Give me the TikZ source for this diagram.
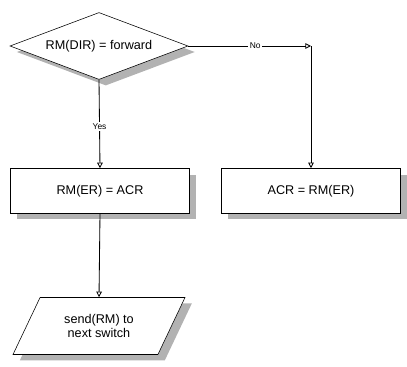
\documentclass[tikz,border=0pt]{standalone}
\usepackage{fontspec}
\setmainfont{Liberation Sans}
\usetikzlibrary{shapes.geometric,shadows,arrows.meta}

\tikzstyle{every node}=[font=\fontsize{9}{10.5}\selectfont]
\tikzstyle{shadowed}=[drop shadow={shadow xshift=0.17cm, shadow yshift=-0.15cm, fill=gray!60, opacity=1}]
\tikzstyle{decision}=[diamond, draw, fill=white, shadowed, inner sep=0pt, aspect=3, minimum width=4.45cm, minimum height=1.675cm]
\tikzstyle{process}=[rectangle, draw, fill=white, shadowed, minimum width=4.475cm, minimum height=1.125cm]
\tikzstyle{io}=[trapezium, trapezium left angle=51, trapezium right angle=129, trapezium stretches body, draw, fill=white, shadowed, align=center, minimum width=4.3cm, minimum height=1.425cm]
\tikzstyle{line}=[draw, line width=0.6pt, -{Triangle[open,length=4pt,width=4pt]}]
\tikzstyle{lab}=[fill=white, inner sep=1pt, font=\fontsize{6}{7}\selectfont]

\begin{document}
\begin{tikzpicture}
            \useasboundingbox (0,0) rectangle (10.175,-9.175);

            % 判断
            \node[decision] (dir) at (2.475,-1.15) {RM(DIR) = forward};

            % 两个赋值
            \node[process] (er) at (2.5,-4.775) {RM(ER) = ACR};
            \node[process] (acr) at (7.775,-4.775) {ACR = RM(ER)};

            % 发送
            \node[io] (send) at (2.475,-8.15) {send(RM) to\\next switch};

            % 连线
            \coordinate (corner) at (7.775,-1.15);
            \path[line] (dir.east) -- node[lab, pos=0.545] {No} (corner);
            \path[line] (corner) -- (acr.north);
            \path[line] (dir.south) -- node[lab, pos=0.53] {Yes} (er.north);
            \path[line] (er.south) -- (send.north);
        \end{tikzpicture}
\end{document}
